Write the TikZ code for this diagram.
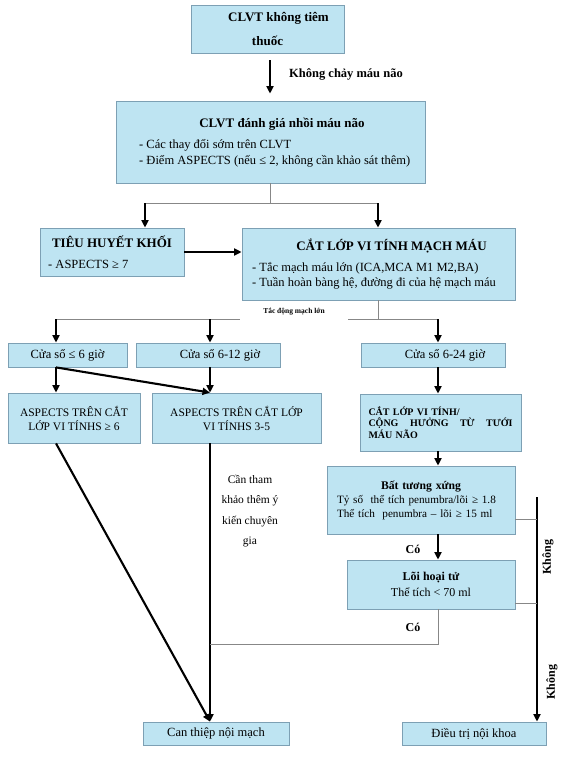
\documentclass[tikz,border=0pt]{standalone}
\usepackage{fontspec}
\setmainfont{Liberation Serif}
\usetikzlibrary{arrows.meta,calc}
\definecolor{boxfill}{RGB}{190,228,242}
\definecolor{boxline}{RGB}{125,160,180}
\definecolor{linkgray}{RGB}{135,135,135}
\newcommand{\sz}[2]{\fontsize{#1}{#2}\selectfont}

\begin{document}
\begin{tikzpicture}[
		x=1pt, y=-1pt,
		box/.style={draw=boxline, fill=boxfill, line width=0.8pt, inner sep=0pt, align=center},
		note/.style={inner sep=0pt, align=center},
		flow/.style={line width=2.1pt, -{Triangle[length=7.5pt, width=7pt]}},
		link/.style={draw=linkgray, line width=0.7pt},
	]
		\useasboundingbox (0,0) rectangle (575,763);

		% boxes
		\node (plain) [box, minimum width=153, minimum height=48, font=\sz{13}{24}\bfseries] at (267.5,29) {\hspace*{22pt}CLVT không tiêm\\thuốc};
		\node (eval) [box, minimum width=309, minimum height=82] at (270.5,142) {};
		\node (eval title) [note, font=\sz{13}{16}\bfseries] at (282,124) {CLVT đánh giá nhồi máu não};
		\node (eval list) [note, anchor=west, align=left, font=\sz{12.5}{16}] at (139,153) {- Các thay đổi sớm trên CLVT\\- Điểm ASPECTS (nếu ≤ 2, không cần khảo sát thêm)};

		\node (lysis) [box, minimum width=144, minimum height=48] at (112,252) {};
		\node (lysis title) [note, font=\sz{13}{16}\bfseries] at (112,242) {TIÊU HUYẾT KHỐI};
		\node (lysis list) [note, anchor=west, font=\sz{12.5}{16}] at (48,264) {- ASPECTS ≥ 7};

		\node (cta) [box, minimum width=273, minimum height=72] at (378.5,264) {};
		\node (cta title) [note, font=\sz{13}{16}\bfseries] at (391.5,246) {CẮT LỚP VI TÍNH MẠCH MÁU};
		\node (cta list) [note, anchor=west, align=left, font=\sz{12.5}{15}] at (252,275.5) {- Tắc mạch máu lớn (ICA,MCA M1 M2,BA)\\- Tuần hoàn bàng hệ, đường đi của hệ mạch máu};

		\node (win6) [box, minimum width=119, minimum height=24, font=\sz{12.5}{14}] at (67.5,355) {Cửa sổ ≤ 6 giờ};
		\node (win12) [box, minimum width=144, minimum height=24, font=\sz{12.5}{14}] at (208,355) {\hspace*{24pt}Cửa sổ 6-12 giờ};
		\node (win24) [box, minimum width=144, minimum height=24, font=\sz{12.5}{14}] at (433,355) {\hspace*{24pt}Cửa sổ 6-24 giờ};

		\node (asp6) [box, minimum width=132, minimum height=50, font=\sz{11.5}{14}] at (74,418) {ASPECTS TRÊN CẮT\\LỚP VI TÍNHS ≥ 6};
		\node (asp35) [box, minimum width=169, minimum height=50, font=\sz{11.5}{14}] at (236.5,418) {ASPECTS TRÊN CẮT LỚP\\VI TÍNHS 3-5};
		\node (perf) [box, minimum width=161, minimum height=57, text width=144, align=left, font=\sz{10}{11.8}\bfseries] at (440.5,422.5) {CẮT LỚP VI TÍNH/\\\makebox[144pt][l]{CỘNG\hfill HƯỞNG\hfill TỪ\hfill TƯỚI}\\MÁU NÃO};

		\node (mismatch) [box, minimum width=188, minimum height=68, text width=168, align=left, font=\sz{11.2}{14}] at (421,500) {\makebox[168pt]{\sz{11.7}{14}\textbf{Bất tương xứng}}\\Tỷ số~ thể tích penumbra/lõi ≥ 1.8\\Thể tích~ penumbra – lõi ≥ 15 ml};
		\node (core) [box, minimum width=168, minimum height=49, font=\sz{12}{16}] at (431,584.5) {\textbf{Lõi hoại tử}\\Thể tích < 70 ml};

		\node (evt) [box, minimum width=146, minimum height=23, font=\sz{12.5}{14}] at (216,733.5) {Can thiệp nội mạch};
		\node (med) [box, minimum width=144, minimum height=23, font=\sz{12.5}{14}] at (474,733.5) {Điều trị nội khoa};

		% junctions
		\coordinate (split) at (270,203);
		\coordinate (split l) at (145,203);
		\coordinate (split r) at (378,203);
		\coordinate (fork l) at (56,319);
		\coordinate (fork m) at (210,319);
		\coordinate (fork r) at (438,319);
		\coordinate (join) at (210,644);
		\coordinate (no top) at (537,497);

		% connectors
		\draw[flow, shorten <=7pt, shorten >=7pt] (plain.south -| split) -- (eval.north -| split);
		\node (no bleed) [note, anchor=west, font=\sz{12.5}{14}\bfseries] at (289,74) {Không chảy máu não};

		\draw[link] (eval.south -| split) -- (split);
		\draw[link] (split l) -- (split r);
		\draw[flow] (split l) -- (split l |- lysis.north);
		\draw[flow] (split r) -- (split r |- cta.north);
		\draw[flow] (lysis.east) -- (lysis.east -| cta.west);

		\draw[link] (cta.south) -- (cta.south |- fork l);
		\draw[link] (fork l) -- (fork r);
		\node (occl) [note, fill=white, minimum width=108, minimum height=16, font=\sz{7.5}{8}\bfseries] at (294,312) {Tắc động mạch lớn};
		\draw[flow] (fork l) -- (fork l |- win6.north);
		\draw[flow] (fork m) -- (fork m |- win12.north);
		\draw[flow] (fork r) -- (fork r |- win24.north);

		\draw[flow] (fork l |- win6.south) -- (fork l |- asp6.north);
		\draw[flow] (fork l |- win6.south) -- (fork m |- asp35.north);
		\draw[flow] (fork m |- win12.south) -- (fork m |- asp35.north);
		\draw[flow] (fork r |- win24.south) -- (fork r |- perf.north);

		\draw[flow] (fork l |- asp6.south) -- (fork m |- evt.north);
		\draw[flow] (fork m |- asp35.south) -- (fork m |- evt.north);
		\node (expert) [note, font=\sz{11.5}{20.5}] at (250,511) {Cần tham\\khảo thêm ý\\kiến chuyên\\gia};

		\draw[flow] (fork r |- perf.south) -- (fork r |- mismatch.north);
		\draw[flow] (fork r |- mismatch.south) -- (fork r |- core.north);
		\node (yes a) [note, font=\sz{12}{14}\bfseries] at (413,549) {Có};
		\draw[link] (fork r |- core.south) |- (join);
		\node (yes b) [note, font=\sz{12}{14}\bfseries] at (413,627) {Có};

		\draw[flow] (no top) -- (no top |- med.north);
		\draw[link] ([yshift=-19pt]mismatch.east) -- ([yshift=-19pt]mismatch.east -| no top);
		\draw[link] ([yshift=-18.5pt]core.east) -- ([yshift=-18.5pt]core.east -| no top);
		\node (no a) [note, rotate=90, font=\sz{12}{14}\bfseries] at (548,557) {Không};
		\node (no b) [note, rotate=90, font=\sz{12}{14}\bfseries] at (552,682) {Không};
	\end{tikzpicture}
\end{document}
